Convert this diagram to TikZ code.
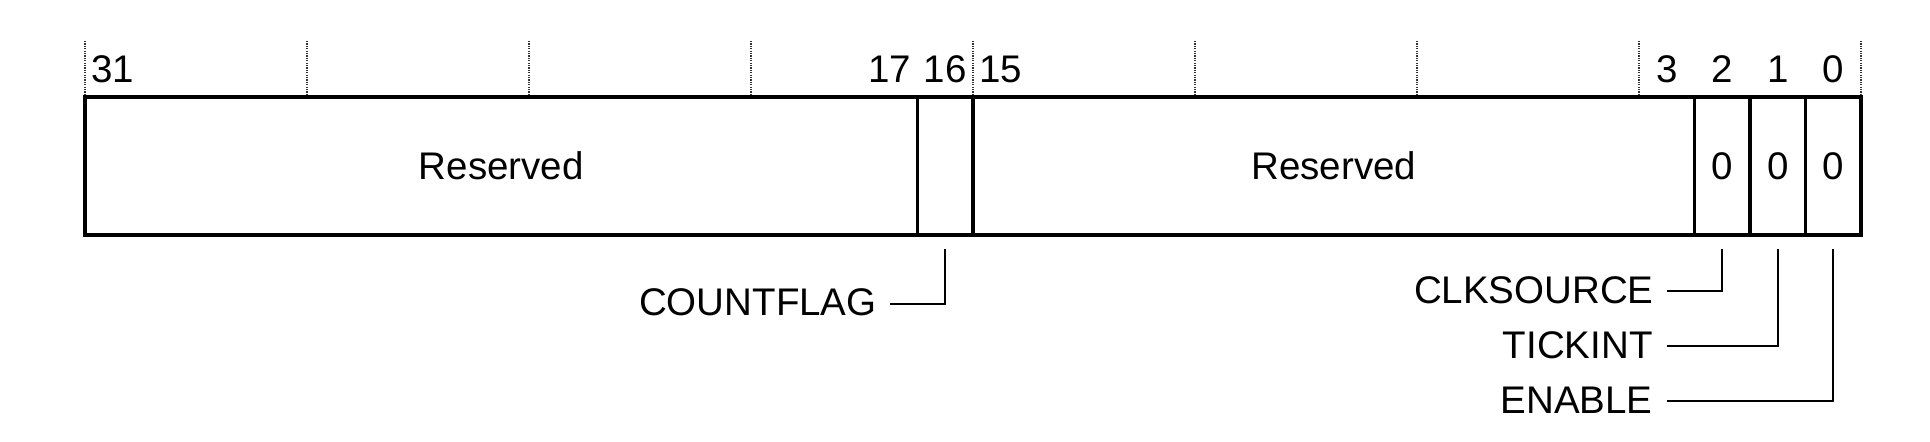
\documentclass[tikz,border=0pt]{standalone}
\usepackage{fontspec}
\setmainfont{Liberation Sans}
\begin{document}
\begin{tikzpicture}[x=0.5pt,y=-0.5pt,
  field/.style={draw, line width=1.9pt, inner sep=0pt, minimum height=69pt, font=\fontsize{19.25}{23}\selectfont},
  bitnum/.style={inner sep=0pt, anchor=base, font=\fontsize{19.25}{23}\selectfont},
  lbl/.style={inner sep=0pt, anchor=base east, font=\fontsize{19.25}{23}\selectfont},
  tick/.style={line width=0.6pt, black!80, dash pattern=on 0.6pt off 0.6pt},
  conn/.style={line width=1.2pt, black}]
\useasboundingbox (0,0) rectangle (1930,441);
% dotted bit ticks
\foreach \x in {85,307,529,751,973,1195,1417,1639,1861}
  \draw[tick] (\x,41) -- (\x,97);
% fields
\node[field, minimum width=416.25pt] (res1) at (501.25,166) {Reserved};
\node[field, minimum width=27.75pt] (f16) at (945.25,166) {};
\node[field, minimum width=360.75pt] (res2) at (1333.75,166) {Reserved};
\node[field, minimum width=27.75pt] (f2) at (1722.25,166) {0};
\node[field, minimum width=27.75pt] (f1) at (1777.75,166) {0};
\node[field, minimum width=27.75pt] (f0) at (1833.25,166) {0};
% bit numbers
\foreach \b in {31,17,16,15,3,2,1,0}
  \node[bitnum] (n\b) at ({85+(31-\b)*55.5+27.75},82) {\b};
% labels
\node[lbl] (cf) at (877,315) {COUNTFLAG};
\node[lbl] (cs) at (1654,303) {CLKSOURCE};
\node[lbl] (ti) at (1653,358) {TICKINT};
\node[lbl] (en) at (1653,413) {ENABLE};
% connector ends
\coordinate (cfa) at (945.25,249);
\coordinate (cfb) at (890,304);
\coordinate (csa) at (1722.25,249);
\coordinate (csb) at (1667,291);
\coordinate (tia) at (1777.75,249);
\coordinate (tib) at (1667,346);
\coordinate (ena) at (1833.25,249);
\coordinate (enb) at (1667,401);
\draw[conn] (cfa) |- (cfb);
\draw[conn] (csa) |- (csb);
\draw[conn] (tia) |- (tib);
\draw[conn] (ena) |- (enb);
\end{tikzpicture}
\end{document}
